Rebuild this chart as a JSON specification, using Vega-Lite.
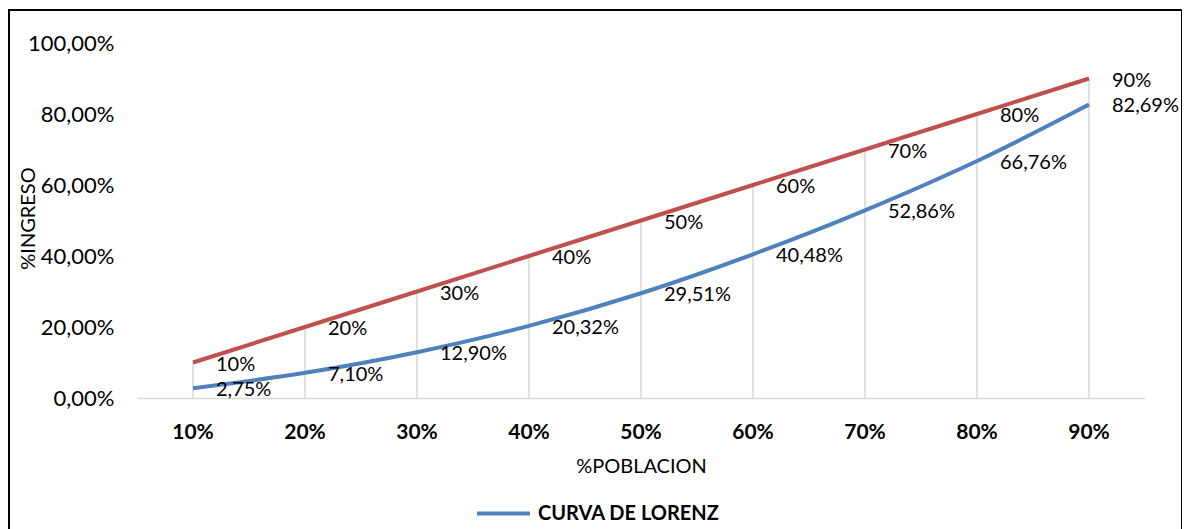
{
  "$schema": "https://vega.github.io/schema/vega-lite/v6.json",
  "width": 1173,
  "height": 530,
  "padding": {"left": 9, "top": 10, "right": 0, "bottom": 0},
  "autosize": {"type": "none"},
  "background": "white",
  "config": {
    "locale": {"number": {"decimal": ",", "thousands": ".", "grouping": [3], "currency": ["", " €"]}},
    "view": {"stroke": "black", "strokeWidth": 2},
    "font": "Lato",
    "axis": {"labelFont": "Lato", "titleFont": "Lato", "labelColor": "#000000", "titleColor": "#000000", "grid": false, "ticks": false}
  },
  "data": {
    "values": [
      {"pob": "10%", "igualdad": 0.10, "lorenz": 0.0275},
      {"pob": "20%", "igualdad": 0.20, "lorenz": 0.0710},
      {"pob": "30%", "igualdad": 0.30, "lorenz": 0.1290},
      {"pob": "40%", "igualdad": 0.40, "lorenz": 0.2032},
      {"pob": "50%", "igualdad": 0.50, "lorenz": 0.2951},
      {"pob": "60%", "igualdad": 0.60, "lorenz": 0.4048},
      {"pob": "70%", "igualdad": 0.70, "lorenz": 0.5286},
      {"pob": "80%", "igualdad": 0.80, "lorenz": 0.6676},
      {"pob": "90%", "igualdad": 0.90, "lorenz": 0.8269}
    ]
  },
  "encoding": {
    "x": {
      "field": "pob", "type": "ordinal",
      "sort": ["10%", "20%", "30%", "40%", "50%", "60%", "70%", "80%", "90%"],
      "scale": {"type": "band", "range": [128, 1136], "paddingInner": 0, "paddingOuter": 0},
      "axis": {
        "title": "%POBLACION", "orient": "bottom", "offset": -142,
        "labelAngle": 0, "labelFontSize": 21, "labelFontWeight": "bold",
        "labelBaseline": "middle", "labelPadding": 34,
        "domainColor": "#D9D9D9", "domainWidth": 1.5,
        "titleFontSize": 20, "titleFontWeight": "normal", "titleY": 68, "titleBaseline": "middle"
      }
    }
  },
  "layer": [
    {
      "mark": {"type": "rule", "color": "#D9D9D9", "strokeWidth": 1.5},
      "encoding": {
        "y": {
          "field": "igualdad", "type": "quantitative",
          "scale": {"domain": [0, 1], "range": [388, 33], "nice": false, "zero": true},
          "axis": {
            "title": "%INGRESO", "orient": "left", "offset": -128,
            "values": [0, 0.2, 0.4, 0.6, 0.8, 1], "format": ".2%",
            "domain": false, "labelFontSize": 22, "labelPadding": 23,
            "titleFontSize": 20, "titleFontWeight": "normal",
            "titleX": -109, "titleY": 208, "titleAngle": -90,
            "titleAlign": "center", "titleBaseline": "middle"
          }
        },
        "y2": {"datum": 0}
      }
    },
    {
      "mark": {"type": "line", "color": "#C0504D", "strokeWidth": 4},
      "encoding": {"y": {"field": "igualdad", "type": "quantitative"}}
    },
    {
      "mark": {"type": "line", "strokeWidth": 4, "interpolate": "monotone"},
      "encoding": {
        "y": {"field": "lorenz", "type": "quantitative"},
        "color": {
          "datum": "CURVA DE LORENZ",
          "scale": {"domain": ["CURVA DE LORENZ"], "range": ["#4F81BD"]},
          "legend": {
            "title": null, "orient": "none", "legendX": 466, "legendY": 475,
            "symbolType": "stroke", "symbolStrokeWidth": 4, "symbolSize": 2800,
            "labelFont": "Lato", "labelFontSize": 20, "labelFontWeight": "bold",
            "labelColor": "#000000", "labelOffset": 6, "labelLimit": 400
          }
        }
      }
    },
    {
      "mark": {"type": "text", "align": "left", "baseline": "middle", "dx": 23, "dy": 2, "fontSize": 20, "font": "Lato", "color": "#000000"},
      "encoding": {
        "y": {"field": "igualdad", "type": "quantitative"},
        "text": {"field": "igualdad", "type": "quantitative", "format": ".0%"}
      }
    },
    {
      "mark": {"type": "text", "align": "left", "baseline": "middle", "dx": 23, "dy": 2, "fontSize": 20, "font": "Lato", "color": "#000000"},
      "encoding": {
        "y": {"field": "lorenz", "type": "quantitative"},
        "text": {"field": "lorenz", "type": "quantitative", "format": ".2%"}
      }
    }
  ]
}
